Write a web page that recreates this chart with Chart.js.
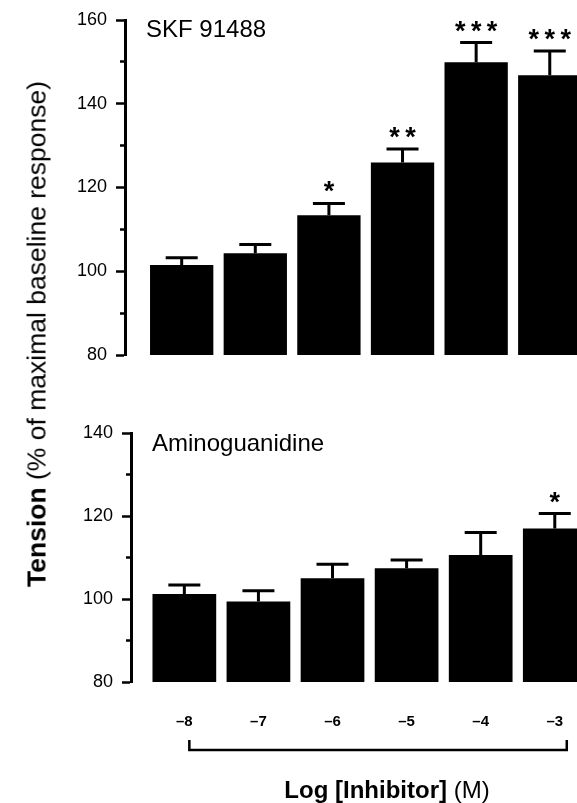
<!DOCTYPE html>
<html>
<head>
<meta charset="utf-8">
<script src="https://cdn.jsdelivr.net/npm/chart.js@4"></script>
<style>
  html, body { margin: 0; padding: 0; background: #fff; overflow: hidden; }
  body { width: 577px; height: 803px; position: relative; font-family: "Liberation Sans", Arial, sans-serif; }
  canvas { position: absolute; left: 0; }
  #topChart { top: 0; }
  #bottomChart { top: 380px; }
  #ytitle {
    position: absolute; left: 37px; top: 334px; white-space: nowrap;
    font-size: 26.5px; color: #000;
    transform: translate(-50%, -50%) rotate(-90deg);
  }
  #xtitle {
    position: absolute; left: 387px; top: 790px; white-space: nowrap;
    font-size: 24px; color: #000; transform: translate(-50%, -50%);
  }
</style>
</head>
<body>
<canvas id="topChart" width="577" height="380"></canvas>
<canvas id="bottomChart" width="577" height="423"></canvas>
<div id="ytitle"><b>Tension</b> (% of maximal baseline response)</div>
<div id="xtitle"><b>Log [Inhibitor]</b> (M)</div>
<script>
// log concentration of inhibitor
const logConc = [-8, -7, -6, -5, -4, -3];
const tickLabels = ['\u20138', '\u20137', '\u20136', '\u20135', '\u20134', '\u20133'];

// SKF 91488 panel
const skfMean = [101.5, 104.3, 113.4, 126.0, 149.9, 146.8];
const skfErrTop = [103.2, 106.4, 116.2, 129.2, 154.6, 152.6];
const skfStars = ['', '', '*', '**', '***', '***'];

// Aminoguanidine panel
const agMean = [101.2, 99.4, 105.0, 107.4, 110.6, 117.0];
const agErrTop = [103.4, 102.0, 108.4, 109.4, 116.0, 120.6];
const agStars = ['', '', '', '', '', '*'];

Chart.defaults.font.family = '"Liberation Sans", Arial, sans-serif';
Chart.defaults.color = '#000';

const errorBars = {
  id: 'errorBars',
  afterDatasetsDraw(chart, args, opts) {
    const ctx = chart.ctx;
    const y = chart.scales.y;
    const bars = chart.getDatasetMeta(0).data;
    ctx.save();
    ctx.strokeStyle = '#000';
    ctx.fillStyle = '#000';
    ctx.lineWidth = 3;
    bars.forEach((bar, i) => {
      const top = y.getPixelForValue(opts.err[i]);
      ctx.beginPath();
      ctx.moveTo(bar.x, bar.y);
      ctx.lineTo(bar.x, top);
      ctx.moveTo(bar.x - 16, top);
      ctx.lineTo(bar.x + 16, top);
      ctx.stroke();
      if (opts.stars[i]) {
        ctx.font = 'bold 27px "Liberation Sans", Arial';
        ctx.textAlign = 'center';
        ctx.textBaseline = 'alphabetic';
        ctx.fillText(opts.stars[i].split('').join('\u2009'), bar.x, top - 3);
      }
    });
    // panel name
    ctx.font = '24px "Liberation Sans", Arial';
    ctx.textAlign = 'left';
    ctx.textBaseline = 'alphabetic';
    ctx.fillText(opts.name, chart.chartArea.left + 21, chart.chartArea.top + opts.nameDy);
    ctx.restore();
  }
};

const bracket = {
  id: 'bracket',
  afterDraw(chart) {
    const x = chart.scales.x;
    const ctx = chart.ctx;
    const yb = chart.chartArea.bottom + 68;
    const x1 = x.getPixelForValue(logConc[0]) + 5;
    const x2 = x.getPixelForValue(logConc[logConc.length - 1]) + 12;
    ctx.save();
    ctx.strokeStyle = '#000';
    ctx.lineWidth = 2.5;
    ctx.beginPath();
    ctx.moveTo(x1, yb - 10);
    ctx.lineTo(x1, yb);
    ctx.lineTo(x2, yb);
    ctx.lineTo(x2, yb - 10);
    ctx.stroke();
    ctx.restore();
  }
};

function yAxis(max, width) {
  return {
    min: 80, max: max, beginAtZero: false,
    afterFit: s => { s.width = width; },
    border: { display: true, color: '#000', width: 3 },
    grid: {
      display: true, drawOnChartArea: false, drawTicks: true,
      tickLength: 9, tickWidth: 2.5, tickColor: '#000',
      tickBorderDash: c => (c.tick && c.tick.value % 20 !== 0) ? [0, 4, 30] : []
    },
    ticks: {
      stepSize: 10, padding: 9,
      font: { size: 18 },
      callback: v => (v % 20 === 0 ? v : '')
    }
  };
}

function makeChart(id, mean, errTop, stars, name, nameDy, xmin, xmax, yMax, yWidth, padding, showX) {
  return new Chart(document.getElementById(id), {
    type: 'bar',
    data: {
      datasets: [{
        data: logConc.map((c, i) => ({ x: c, y: mean[i] })),
        backgroundColor: '#000',
        borderWidth: 0,
        barPercentage: 0.86,
        categoryPercentage: 1
      }]
    },
    options: {
      responsive: false,
      animation: false,
      layout: { padding: padding },
      plugins: {
        legend: { display: false },
        tooltip: { enabled: false },
        errorBars: { err: errTop, stars: stars, name: name, nameDy: nameDy }
      },
      scales: {
        x: {
          type: 'linear', min: xmin, max: xmax, offset: false,
          display: showX,
          afterBuildTicks: s => { s.ticks = logConc.map(v => ({ value: v })); },
          afterFit: s => {
            s.paddingLeft = 0; s.paddingRight = 0;
            if (showX) s.height = 121;
          },
          border: { display: false },
          grid: { display: false },
          ticks: {
            padding: 23, maxRotation: 0,
            font: { size: 15, weight: 'bold' },
            callback: (v, i) => tickLabels[i]
          }
        },
        y: yAxis(yMax, yWidth)
      }
    },
    plugins: showX ? [errorBars, bracket] : [errorBars]
  });
}

makeChart('topChart', skfMean, skfErrTop, skfStars, 'SKF 91488', 17,
  -8.77, -2.63, 160, 125, { top: 20, bottom: 25, left: 0, right: 0 }, false);
makeChart('bottomChart', agMean, agErrTop, agStars, 'Aminoguanidine', 18,
  -8.72, -2.70, 140, 131, { top: 53, bottom: 0, left: 0, right: 0 }, true);
</script>
</body>
</html>
